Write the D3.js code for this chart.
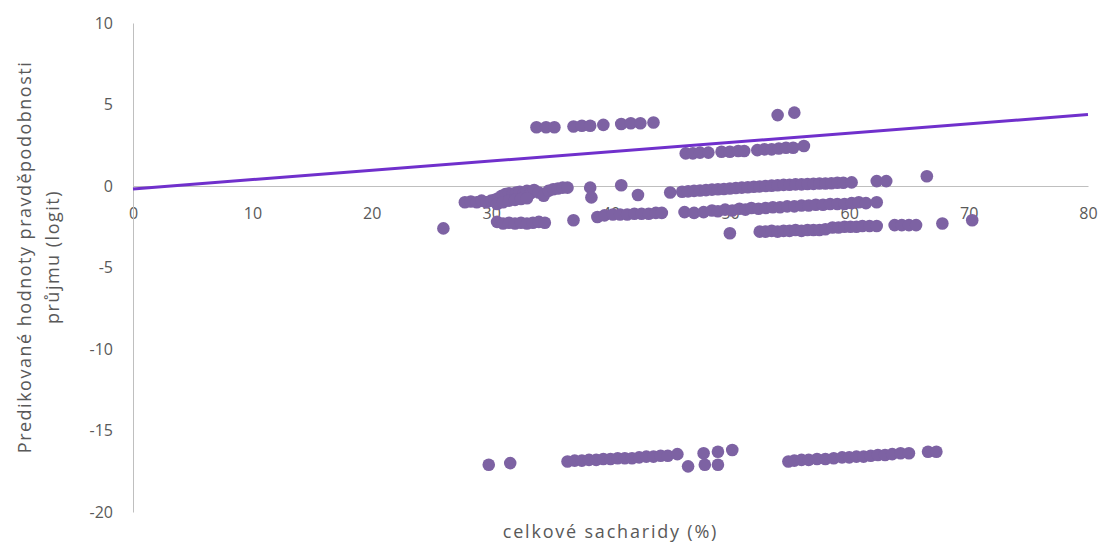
<!DOCTYPE html>
<html>
<head>
<meta charset="utf-8">
<script src="https://cdn.jsdelivr.net/npm/d3@7"></script>
<style>
  body { margin: 0; background: #fff; }
  svg text { font-family: "Open Sans", "Noto Sans", sans-serif; fill: #595959; }
</style>
</head>
<body>
<div id="chart"></div>
<script>
// celkové sacharidy (%) vs. predikovaný logit
var xTicks = [0, 10, 20, 30, 40, 50, 60, 70, 80];
var yTicks = [-20, -15, -10, -5, 0, 5, 10];

// band around +3.7
var bandHigh = [[33.8,3.6],[34.6,3.6],[35.3,3.6],[36.9,3.65],[37.6,3.7],[38.3,3.7],[39.4,3.75],[40.9,3.8],[41.7,3.85],[42.5,3.85],[43.6,3.9]];
// two points around +4.4
var bandTop = [[54.0,4.35],[55.4,4.5]];
// band around +2.2
var bandPos = [[46.3,2.0],[46.9,2.0],[47.5,2.05],[48.2,2.05],[49.3,2.1],[50.0,2.1],[50.7,2.15],[51.2,2.15],[52.3,2.2],[52.9,2.25],[53.5,2.25],[54.1,2.3],[54.7,2.35],[55.3,2.35],[56.2,2.45]];
// band around 0
var bandZero = [[27.8,-1.0],[28.3,-0.95],[28.8,-1.0],[29.2,-0.9],[29.6,-1.0],[30.0,-0.9],[30.3,-0.85],[30.6,-0.75],[30.9,-0.6],[31.2,-0.5],[31.5,-0.45],[31.8,-0.5],[32.1,-0.4],[32.4,-0.35],[32.7,-0.5],[33.0,-0.3],[33.3,-0.45],[33.6,-0.25],[34.0,-0.4],[34.4,-0.6],[34.8,-0.3],[35.2,-0.2],[35.6,-0.15],[36.0,-0.1],[36.4,-0.1],[30.5,-1.1],[31.0,-1.0],[31.5,-0.9],[32.0,-0.85],[32.5,-0.8],[33.0,-0.75],[38.3,-0.1],[38.4,-0.7],[40.9,0.05],[42.3,-0.55],[45.0,-0.4],[46.0,-0.35],[46.5,-0.33],[47.0,-0.3],[47.5,-0.28],[48.0,-0.25],[48.5,-0.22],[49.0,-0.2],[49.5,-0.18],[50.0,-0.15],[50.5,-0.12],[51.0,-0.1],[51.5,-0.08],[52.0,-0.05],[52.5,-0.03],[53.0,0.0],[53.5,0.02],[54.0,0.05],[54.5,0.07],[55.0,0.08],[55.5,0.1],[56.0,0.1],[56.5,0.12],[57.0,0.13],[57.5,0.15],[58.0,0.15],[58.5,0.17],[59.0,0.2],[59.5,0.2],[60.2,0.22],[62.3,0.3],[63.1,0.3],[66.5,0.6]];
// band around -1.4
var bandNeg1 = [[38.9,-1.9],[39.5,-1.8],[40.2,-1.75],[40.8,-1.75],[41.4,-1.75],[42.0,-1.7],[42.6,-1.7],[43.2,-1.7],[43.8,-1.65],[44.3,-1.65],[46.2,-1.6],[47.0,-1.65],[47.8,-1.6],[48.5,-1.5],[49.0,-1.55],[49.6,-1.45],[50.2,-1.5],[50.8,-1.4],[51.3,-1.45],[51.8,-1.35],[52.4,-1.4],[53.0,-1.35],[53.6,-1.3],[54.2,-1.3],[54.8,-1.25],[55.4,-1.25],[56.0,-1.2],[56.6,-1.2],[57.2,-1.15],[57.8,-1.15],[58.4,-1.1],[59.0,-1.1],[59.6,-1.1],[60.2,-1.05],[60.8,-1.0],[61.4,-1.05],[62.3,-1.0]];
// band around -2.5
var bandNeg2 = [[26.0,-2.6],[30.5,-2.2],[31.0,-2.3],[31.5,-2.25],[32.0,-2.3],[32.5,-2.25],[33.0,-2.3],[33.5,-2.25],[34.0,-2.2],[34.5,-2.25],[36.9,-2.1],[50.0,-2.9],[52.5,-2.8],[53.0,-2.8],[53.5,-2.75],[54.0,-2.8],[54.5,-2.75],[55.0,-2.75],[55.5,-2.7],[56.0,-2.75],[56.5,-2.7],[57.0,-2.7],[57.5,-2.7],[58.0,-2.65],[58.6,-2.55],[59.1,-2.55],[59.6,-2.5],[60.1,-2.5],[60.6,-2.5],[61.1,-2.45],[61.7,-2.45],[62.3,-2.45],[63.8,-2.4],[64.4,-2.4],[65.0,-2.4],[65.6,-2.4],[67.8,-2.3],[70.3,-2.1]];
// band around -16.7
var bandLow = [[29.8,-17.1],[31.6,-17.0],[36.4,-16.9],[37.0,-16.85],[37.6,-16.85],[38.2,-16.8],[38.8,-16.8],[39.4,-16.75],[40.0,-16.75],[40.6,-16.7],[41.2,-16.7],[41.8,-16.7],[42.4,-16.65],[43.0,-16.6],[43.6,-16.6],[44.2,-16.55],[44.8,-16.55],[45.6,-16.45],[46.5,-17.2],[47.9,-17.1],[49.0,-17.1],[47.8,-16.4],[49.0,-16.3],[50.2,-16.2],[54.9,-16.9],[55.4,-16.85],[56.0,-16.8],[56.6,-16.8],[57.3,-16.75],[58.0,-16.75],[58.7,-16.7],[59.4,-16.65],[60.0,-16.65],[60.6,-16.6],[61.2,-16.6],[61.8,-16.55],[62.4,-16.5],[63.0,-16.5],[63.6,-16.45],[64.3,-16.4],[65.0,-16.4],[66.6,-16.3],[67.3,-16.3]];

// linear trendline end points
var trend = [[0, -0.18], [80, 4.38]];

var allPoints = [].concat(bandZero, bandNeg1, bandNeg2, bandPos, bandHigh, bandTop, bandLow);

var width = 1103, height = 544;
var margin = {top: 23, right: 15, bottom: 32, left: 133};

var svg = d3.select("#chart")
  .append("svg")
  .attr("width", width)
  .attr("height", height);

var x = d3.scaleLinear().domain([0, 80]).range([margin.left, width - margin.right]);
var y = d3.scaleLinear().domain([-20, 10]).range([height - margin.bottom, margin.top]);

// axes (drawn first, points cover the labels)
var xAxis = svg.append("g")
  .attr("transform", "translate(0," + y(0) + ")")
  .call(d3.axisBottom(x).tickValues(xTicks).tickSize(0).tickPadding(22).tickFormat(d => String(d)));
xAxis.select(".domain").attr("stroke", "#bfbfbf").attr("stroke-width", 1);
xAxis.selectAll("text").style("font-size", "16px").attr("fill", "#595959");

var yAxis = svg.append("g")
  .attr("transform", "translate(" + x(0) + ",0)")
  .call(d3.axisLeft(y).tickValues(yTicks).tickSize(0).tickPadding(20).tickFormat(d => String(d)));
yAxis.select(".domain").attr("stroke", "#bfbfbf").attr("stroke-width", 1);
yAxis.selectAll("text").style("font-size", "16px").attr("fill", "#595959");

// points
svg.selectAll(".dot")
  .data(allPoints)
  .enter().append("circle")
  .attr("class", "dot")
  .attr("cx", d => x(d[0]))
  .attr("cy", d => y(d[1]))
  .attr("r", 6.3)
  .attr("fill", "#7d62a3");

// trendline
svg.append("path")
  .datum(trend)
  .attr("fill", "none")
  .attr("stroke", "#7030cc")
  .attr("stroke-width", 3)
  .attr("d", d3.line().x(d => x(d[0])).y(d => y(d[1])));

// axis titles
svg.append("text")
  .attr("x", (x(0) + x(80)) / 2)
  .attr("y", 538)
  .attr("text-anchor", "middle")
  .style("font-size", "18px")
  .style("letter-spacing", "1.8px")
  .text("celkové sacharidy (%)");

var yTitle = svg.append("text")
  .attr("transform", "translate(25,257) rotate(-90)")
  .attr("text-anchor", "middle")
  .style("font-size", "18px")
  .style("letter-spacing", "1.5px");
yTitle.append("tspan").attr("x", 0).attr("dy", "0.35em").text("Predikované hodnoty pravděpodobnosti");
yTitle.append("tspan").attr("x", 0).attr("dy", "1.55em").text("průjmu (logit)");
</script>
</body>
</html>
